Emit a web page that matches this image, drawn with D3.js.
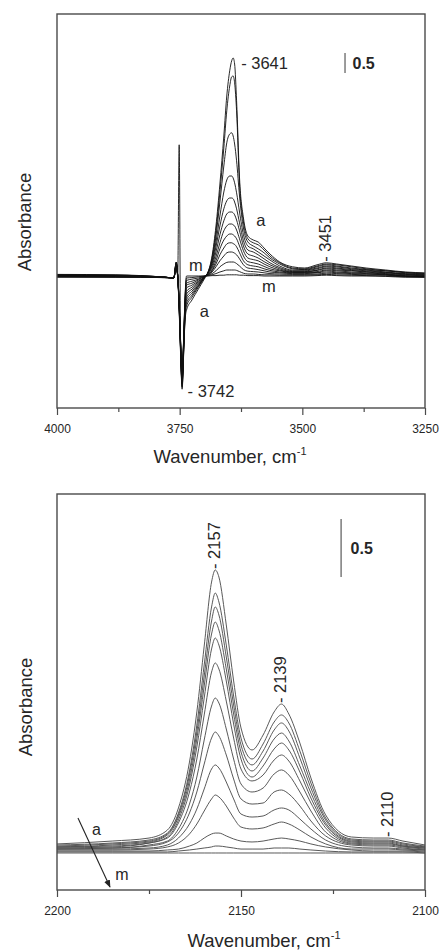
<!DOCTYPE html>
<html>
<head>
<meta charset="utf-8">
<script src="https://cdn.jsdelivr.net/npm/d3@7"></script>
<style>
  html, body { margin: 0; padding: 0; background: #fff; }
  svg { display: block; }
  text { font-family: "Liberation Sans", Arial, sans-serif; fill: #262626; }
</style>
</head>
<body>
<svg id="fig" width="441" height="951"></svg>
<script>
// ---------- OH stretching region (upper panel), absorbance ----------
const ohWavenumbers = [4000, 3880, 3780, 3762, 3757, 3754, 3751, 3748, 3745, 3742, 3739, 3736, 3725, 3712, 3700, 3692, 3684, 3676, 3668, 3660, 3654, 3648, 3644, 3641, 3638, 3634, 3628, 3620, 3611, 3600, 3590, 3578, 3566, 3546, 3520, 3495, 3470, 3451, 3430, 3400, 3370, 3330, 3290, 3250];
const ohA = [0.04, 0.03, -0.03, -0.05, 0.35, 0, -0.88, -2.0, -2.83, -2.0, -1.1, -0.85, -0.6, -0.33, -0.08, 0.1, 0.5, 1.25, 2.3, 3.5, 4.5, 5.13, 5.38, 5.45, 5.3, 4.38, 2.45, 1.45, 1.0, 0.9, 0.85, 0.7, 0.55, 0.35, 0.23, 0.2, 0.28, 0.33, 0.3, 0.25, 0.2, 0.15, 0.1, 0.08];
const ohB = [0.03, 0.02, -0.03, -0.05, 0.35, 0, -0.83, -1.95, -2.78, -1.95, -1.05, -0.75, -0.53, -0.28, -0.05, 0.1, 0.45, 1.13, 2.1, 3.2, 4.13, 4.75, 4.98, 5.0, 4.83, 4.13, 2.3, 1.35, 0.93, 0.83, 0.78, 0.65, 0.5, 0.33, 0.2, 0.18, 0.25, 0.3, 0.28, 0.23, 0.18, 0.13, 0.09, 0.06];
const ohC = [0.03, 0.02, -0.03, -0.05, 0.33, 0, -0.8, -1.9, -2.75, -1.9, -1.0, -0.68, -0.48, -0.25, -0.05, 0.1, 0.4, 1.0, 1.85, 2.75, 3.33, 3.55, 3.58, 3.5, 3.3, 2.88, 2.0, 1.2, 0.85, 0.75, 0.68, 0.58, 0.45, 0.3, 0.18, 0.16, 0.23, 0.28, 0.25, 0.2, 0.16, 0.13, 0.08, 0.05];
const ohD = [0.02, 0.01, -0.03, -0.05, 0.33, 0, -0.78, -1.88, -2.7, -1.85, -0.95, -0.6, -0.43, -0.23, -0.05, 0.08, 0.35, 0.85, 1.5, 2.1, 2.4, 2.5, 2.5, 2.45, 2.33, 2.08, 1.6, 1.03, 0.75, 0.68, 0.6, 0.5, 0.4, 0.25, 0.15, 0.15, 0.2, 0.25, 0.23, 0.18, 0.15, 0.1, 0.06, 0.04];
const ohE = [0.02, 0.01, -0.03, -0.05, 0.3, 0, -0.75, -1.85, -2.68, -1.8, -0.9, -0.53, -0.38, -0.2, -0.04, 0.08, 0.3, 0.73, 1.25, 1.68, 1.88, 1.95, 1.95, 1.93, 1.85, 1.68, 1.33, 0.88, 0.65, 0.6, 0.53, 0.43, 0.33, 0.21, 0.13, 0.13, 0.18, 0.23, 0.2, 0.16, 0.13, 0.09, 0.05, 0.03];
const ohF = [0.01, 0.0, -0.03, -0.05, 0.3, 0, 3.28, -1.83, -2.65, -1.78, -0.85, -0.45, -0.33, -0.18, -0.03, 0.08, 0.25, 0.6, 1.03, 1.38, 1.55, 1.6, 1.6, 1.58, 1.53, 1.4, 1.13, 0.75, 0.55, 0.5, 0.45, 0.36, 0.28, 0.18, 0.11, 0.11, 0.15, 0.2, 0.18, 0.14, 0.11, 0.08, 0.04, 0.01];
const ohG = [0.01, 0, -0.03, -0.05, 0.28, 0, -0.73, -1.8, -2.63, -1.75, -0.8, -0.38, -0.28, -0.15, -0.03, 0.06, 0.2, 0.48, 0.83, 1.13, 1.25, 1.3, 1.3, 1.28, 1.25, 1.15, 0.93, 0.63, 0.45, 0.41, 0.38, 0.3, 0.23, 0.15, 0.1, 0.1, 0.14, 0.18, 0.15, 0.13, 0.1, 0.06, 0.03, 0];
const ohH = [0, -0.01, -0.03, -0.05, 0.28, 0, -0.73, -1.78, -2.6, -1.73, -0.75, -0.3, -0.23, -0.13, -0.03, 0.05, 0.15, 0.38, 0.68, 0.9, 1.0, 1.05, 1.05, 1.03, 1.0, 0.93, 0.75, 0.5, 0.36, 0.33, 0.3, 0.24, 0.18, 0.13, 0.09, 0.09, 0.11, 0.15, 0.13, 0.1, 0.08, 0.05, 0.01, -0.01];
const ohI = [-0.01, -0.01, -0.03, -0.05, 0.25, 0, -0.7, -1.75, -2.58, -1.7, -0.7, -0.23, -0.18, -0.1, -0.01, 0.04, 0.13, 0.3, 0.53, 0.7, 0.8, 0.83, 0.83, 0.81, 0.79, 0.73, 0.58, 0.38, 0.28, 0.25, 0.23, 0.18, 0.14, 0.1, 0.08, 0.08, 0.09, 0.13, 0.1, 0.08, 0.06, 0.04, 0, -0.01];
const ohJ = [-0.01, -0.02, -0.04, -0.05, 0.25, 0, -0.68, -1.73, -2.55, -1.68, -0.65, -0.18, -0.13, -0.08, -0.01, 0.03, 0.1, 0.23, 0.38, 0.5, 0.58, 0.6, 0.6, 0.59, 0.57, 0.53, 0.43, 0.28, 0.2, 0.18, 0.16, 0.13, 0.1, 0.08, 0.06, 0.06, 0.08, 0.1, 0.08, 0.06, 0.05, 0.03, 0, -0.02];
const ohK = [-0.02, -0.02, -0.04, -0.05, 0.23, 0, -0.68, -1.7, -2.53, -1.65, -0.6, -0.11, -0.08, -0.05, -0.01, 0.02, 0.06, 0.13, 0.23, 0.3, 0.34, 0.35, 0.35, 0.35, 0.34, 0.31, 0.25, 0.16, 0.12, 0.11, 0.1, 0.08, 0.06, 0.05, 0.04, 0.04, 0.05, 0.07, 0.06, 0.04, 0.03, 0.02, -0.01, -0.02];
const ohL = [-0.02, -0.03, -0.04, -0.05, 0.2, 0, -0.65, -1.68, -2.5, -1.63, -0.55, -0.05, -0.04, -0.02, 0, 0.01, 0.03, 0.06, 0.1, 0.13, 0.15, 0.15, 0.15, 0.15, 0.15, 0.14, 0.11, 0.07, 0.05, 0.05, 0.04, 0.03, 0.03, 0.02, 0.02, 0.02, 0.03, 0.04, 0.03, 0.02, 0.01, 0, -0.02, -0.03];
const ohM = [-0.03, -0.03, -0.04, -0.05, 0.2, 0, -0.63, -1.65, -2.45, -1.6, -0.5, 0, 0, 0, 0, 0, 0.01, 0.01, 0.02, 0.02, 0.03, 0.03, 0.03, 0.03, 0.03, 0.03, 0.02, 0.02, 0.01, 0.01, 0.01, 0, 0, 0, 0, 0, 0.01, 0.02, 0.01, 0, 0, -0.01, -0.03, -0.03];

// ---------- CO stretching region (lower panel), absorbance ----------
const coWavenumbers = [2200, 2185, 2175, 2170, 2167, 2164, 2162, 2160, 2158, 2157, 2156, 2154, 2152, 2150, 2147, 2144, 2141, 2139, 2137, 2134, 2131, 2127, 2120, 2114, 2110, 2106, 2100];
const coA = [0.078, 0.103, 0.129, 0.198, 0.388, 0.784, 1.216, 1.784, 2.336, 2.440, 2.379, 1.966, 1.483, 1.078, 0.888, 1.017, 1.216, 1.284, 1.198, 0.948, 0.647, 0.328, 0.138, 0.129, 0.129, 0.103, 0.069];
const coB = [0.069, 0.086, 0.112, 0.172, 0.345, 0.707, 1.103, 1.621, 2.121, 2.241, 2.164, 1.793, 1.353, 0.991, 0.810, 0.940, 1.129, 1.190, 1.121, 0.879, 0.603, 0.302, 0.121, 0.112, 0.112, 0.086, 0.060];
const coC = [0.060, 0.078, 0.103, 0.164, 0.328, 0.672, 1.043, 1.526, 2.000, 2.121, 2.052, 1.690, 1.276, 0.931, 0.759, 0.879, 1.060, 1.121, 1.052, 0.819, 0.560, 0.284, 0.112, 0.103, 0.103, 0.078, 0.052];
const coD = [0.052, 0.069, 0.095, 0.155, 0.310, 0.629, 0.983, 1.440, 1.888, 1.991, 1.922, 1.586, 1.198, 0.871, 0.707, 0.819, 0.983, 1.034, 0.966, 0.750, 0.517, 0.259, 0.103, 0.095, 0.095, 0.069, 0.052];
const coE = [0.052, 0.060, 0.086, 0.138, 0.284, 0.586, 0.914, 1.336, 1.759, 1.853, 1.793, 1.483, 1.112, 0.810, 0.655, 0.750, 0.897, 0.948, 0.888, 0.698, 0.474, 0.241, 0.095, 0.086, 0.086, 0.060, 0.043];
const coF = [0.043, 0.052, 0.086, 0.129, 0.259, 0.526, 0.810, 1.190, 1.560, 1.638, 1.586, 1.310, 0.991, 0.724, 0.621, 0.672, 0.802, 0.845, 0.793, 0.621, 0.431, 0.216, 0.086, 0.078, 0.078, 0.060, 0.043];
const coG = [0.043, 0.043, 0.069, 0.103, 0.207, 0.422, 0.655, 0.974, 1.267, 1.336, 1.293, 1.069, 0.810, 0.595, 0.526, 0.560, 0.681, 0.716, 0.672, 0.526, 0.362, 0.181, 0.078, 0.069, 0.069, 0.052, 0.034];
const coH = [0.034, 0.043, 0.060, 0.095, 0.172, 0.345, 0.526, 0.767, 0.991, 1.043, 1.009, 0.845, 0.638, 0.466, 0.422, 0.431, 0.526, 0.543, 0.509, 0.405, 0.276, 0.147, 0.069, 0.060, 0.060, 0.043, 0.026];
const coI = [0.034, 0.034, 0.043, 0.069, 0.129, 0.250, 0.379, 0.552, 0.724, 0.759, 0.733, 0.612, 0.466, 0.336, 0.310, 0.319, 0.371, 0.388, 0.371, 0.293, 0.207, 0.112, 0.052, 0.043, 0.043, 0.034, 0.026];
const coJ = [0.026, 0.026, 0.034, 0.052, 0.086, 0.164, 0.250, 0.362, 0.466, 0.500, 0.483, 0.405, 0.302, 0.224, 0.207, 0.216, 0.250, 0.267, 0.250, 0.198, 0.138, 0.078, 0.034, 0.034, 0.034, 0.026, 0.017];
const coK = [0.017, 0.017, 0.017, 0.026, 0.034, 0.060, 0.086, 0.129, 0.164, 0.172, 0.172, 0.147, 0.121, 0.103, 0.095, 0.103, 0.121, 0.129, 0.121, 0.103, 0.078, 0.052, 0.026, 0.017, 0.017, 0.017, 0.009];
const coL = [0.009, 0.009, 0.009, 0.009, 0.017, 0.026, 0.034, 0.043, 0.052, 0.060, 0.060, 0.052, 0.043, 0.034, 0.034, 0.034, 0.043, 0.043, 0.043, 0.034, 0.026, 0.017, 0.009, 0.009, 0.009, 0.009, 0.000];
const coM = [0, 0, 0, 0, 0, 0, 0, 0, 0, 0, 0, 0, 0, 0, 0, 0, 0, 0, 0, 0, 0, 0, 0, 0, 0, 0, 0];

// ---------- axis ticks ----------
const ohMajorTicks = [4000, 3750, 3500, 3250];
const ohMinorTicks = [3875, 3625, 3375];
const coMajorTicks = [2200, 2150, 2100];
const coMinorTicks = [2175, 2125];

// ---------- peak labels & scale bars ----------
const ohPeaks = [
  { wn: 3641, abs: 5.45, text: "- 3641" },
  { wn: 3742, abs: -2.83, text: "- 3742" },
  { wn: 3451, abs: 0.33, text: "- 3451" }
];
const coPeaks = [
  { wn: 2157, abs: 2.44, text: "- 2157" },
  { wn: 2139, abs: 1.284, text: "- 2139" },
  { wn: 2110, abs: 0.129, text: "- 2110" }
];
const ohScaleBar = { wn: 3413, from: 5.075, to: 5.575, label: "0.5" };
const coScaleBar = { wn: 2122.8, from: 2.379, to: 2.879, label: "0.5" };

const ohSeries = [ohA, ohB, ohC, ohD, ohE, ohF, ohG, ohH, ohI, ohJ, ohK, ohL, ohM];
const coSeries = [coA, coB, coC, coD, coE, coF, coG, coH, coI, coJ, coK, coL, coM];

const svg = d3.select("#fig");

function drawFrame(g, x, y, majors, minors) {
  const [x0, x1] = x.range();
  const [yb, yt] = y.range();
  g.append("rect")
    .attr("x", x0).attr("y", yt)
    .attr("width", x1 - x0).attr("height", yb - yt)
    .attr("fill", "none").attr("stroke", "#4a4a4a").attr("stroke-width", 1.4);
  const axis = d3.axisBottom(x).tickValues(majors).tickSize(7).tickPadding(9)
    .tickFormat(d3.format("d"));
  const ax = g.append("g").attr("transform", `translate(0,${yb})`).call(axis);
  ax.select(".domain").remove();
  ax.selectAll(".tick line").attr("stroke", "#4a4a4a").attr("stroke-width", 1.2);
  ax.selectAll(".tick text").attr("font-size", 12)
    .attr("font-family", "Liberation Sans, Arial, sans-serif").attr("fill", "#333");
  const mx = d3.axisBottom(x).tickValues(minors).tickSize(4).tickFormat("");
  const mg = g.append("g").attr("transform", `translate(0,${yb})`).call(mx);
  mg.select(".domain").remove();
  mg.selectAll(".tick line").attr("stroke", "#4a4a4a").attr("stroke-width", 1.2);
}

function axisTitles(g, cx, ty, ayX, ayY) {
  const t = g.append("text").attr("x", cx).attr("y", ty)
    .attr("text-anchor", "middle").attr("font-size", 18.5);
  t.append("tspan").text("Wavenumber, cm");
  t.append("tspan").attr("font-size", 11).attr("dy", -8).text("-1");
  g.append("text")
    .attr("transform", `translate(${ayX},${ayY}) rotate(-90)`)
    .attr("text-anchor", "middle").attr("font-size", 18.5)
    .text("Absorbance");
}

function drawSpectra(g, x, y, wns, series, id, color, width) {
  const [x0, x1] = x.range();
  const [yb, yt] = y.range();
  g.append("clipPath").attr("id", id)
    .append("rect").attr("x", x0).attr("y", yt).attr("width", x1 - x0).attr("height", yb - yt);
  const line = d3.line()
    .x((d, i) => x(wns[i]))
    .y(d => y(d))
    .curve(d3.curveMonotoneX);
  g.append("g").attr("clip-path", `url(#${id})`)
    .selectAll("path").data(series).join("path")
    .attr("d", line)
    .attr("fill", "none")
    .attr("stroke", color)
    .attr("stroke-width", width)
    .attr("stroke-linejoin", "round");
}

function scaleBar(g, x, y, bar, dx) {
  g.append("line")
    .attr("x1", x(bar.wn)).attr("x2", x(bar.wn))
    .attr("y1", y(bar.from)).attr("y2", y(bar.to))
    .attr("stroke", "#666").attr("stroke-width", 1.3);
  g.append("text")
    .attr("x", x(bar.wn) + dx).attr("y", y((bar.from + bar.to) / 2) + 6)
    .attr("font-size", 16).attr("font-weight", "bold").text(bar.label);
}

// ===================== upper panel: OH region =====================
const ohX = d3.scaleLinear().domain([4000, 3250]).range([57, 425]);
const ohY = d3.scaleLinear().domain([-3.3, 6.55]).range([408, 14]);
const ohPanel = svg.append("g");
drawSpectra(ohPanel, ohX, ohY, ohWavenumbers, ohSeries, "clipOH", "#111", 0.9);
drawFrame(ohPanel, ohX, ohY, ohMajorTicks, ohMinorTicks);
axisTitles(ohPanel, 230, 463, 31, 222);
scaleBar(ohPanel, ohX, ohY, ohScaleBar, 7.5);

// peak annotations
{
  const p0 = ohPeaks[0];
  ohPanel.append("text").attr("x", ohX(p0.wn) + 8).attr("y", ohY(p0.abs) + 11)
    .attr("font-size", 16.5).text(p0.text);
  const p1 = ohPeaks[1];
  ohPanel.append("text").attr("x", ohX(p1.wn) + 4).attr("y", ohY(p1.abs) + 8)
    .attr("font-size", 16.5).text(p1.text);
  const p2 = ohPeaks[2];
  ohPanel.append("text")
    .attr("transform", `translate(${ohX(p2.wn) + 5},${ohY(p2.abs) - 1}) rotate(-90)`)
    .attr("font-size", 16.5).text(p2.text);
}
// coverage labels a / m
ohPanel.append("text").attr("x", ohX(3594)).attr("y", ohY(1.25)).attr("font-size", 16.5).text("a");
ohPanel.append("text").attr("x", ohX(3709)).attr("y", ohY(-1.02)).attr("font-size", 16.5).text("a");
ohPanel.append("text").attr("x", ohX(3731)).attr("y", ohY(0.12)).attr("font-size", 16.5).text("m");
ohPanel.append("text").attr("x", ohX(3582)).attr("y", ohY(-0.4)).attr("font-size", 16.5).text("m");

// ===================== lower panel: CO region =====================
const coX = d3.scaleLinear().domain([2200, 2100]).range([57, 425]);
const coY = d3.scaleLinear().domain([-0.319, 3.095]).range([890, 494]);
const coPanel = svg.append("g");
drawSpectra(coPanel, coX, coY, coWavenumbers, coSeries, "clipCO", "#505050", 0.95);
drawFrame(coPanel, coX, coY, coMajorTicks, coMinorTicks);
axisTitles(coPanel, 264, 947, 32, 707);
scaleBar(coPanel, coX, coY, coScaleBar, 9.5);

coPeaks.forEach(p => {
  coPanel.append("text")
    .attr("transform", `translate(${coX(p.wn) + 5},${coY(p.abs) - 1}) rotate(-90)`)
    .attr("font-size", 16.5).text(p.text);
});

// arrow running from the highest (a) to the lowest (m) coverage spectrum
const arrow = { from: [2194.3, 0.302], to: [2185.6, -0.293] };
coPanel.append("defs").append("marker")
  .attr("id", "arrowHead").attr("viewBox", "0 0 10 10")
  .attr("refX", 9).attr("refY", 5)
  .attr("markerWidth", 7).attr("markerHeight", 7)
  .attr("orient", "auto")
  .append("path").attr("d", "M0,1 L10,5 L0,9 Z").attr("fill", "#222");
coPanel.append("line")
  .attr("x1", coX(arrow.from[0])).attr("y1", coY(arrow.from[1]))
  .attr("x2", coX(arrow.to[0])).attr("y2", coY(arrow.to[1]))
  .attr("stroke", "#222").attr("stroke-width", 1.1)
  .attr("marker-end", "url(#arrowHead)");
coPanel.append("text").attr("x", coX(2190.5)).attr("y", coY(0.155)).attr("font-size", 16).text("a");
coPanel.append("text").attr("x", coX(2184.2)).attr("y", coY(-0.233)).attr("font-size", 16).text("m");
</script>
</body>
</html>
